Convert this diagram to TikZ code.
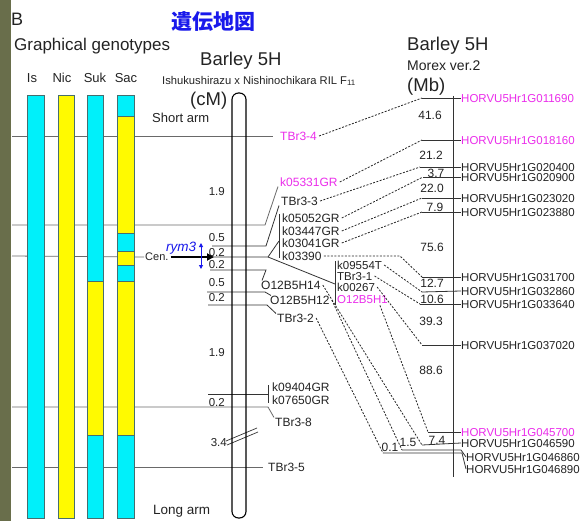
\documentclass[tikz,border=0pt]{standalone}
\usepackage{fontspec}
\setmainfont{Liberation Sans}
\newfontfamily\cjk{Noto Sans CJK JP}
\usetikzlibrary{arrows.meta}
\definecolor{txt}{RGB}{35,35,35}
\definecolor{mag}{RGB}{235,45,235}
\definecolor{tblue}{RGB}{25,25,235}
\definecolor{cy}{RGB}{0,240,250}
\definecolor{ye}{RGB}{255,250,0}
\definecolor{barline}{RGB}{70,110,110}
\definecolor{longc}{RGB}{105,105,105}
\definecolor{photo}{RGB}{105,110,75}
\begin{document}
\begin{tikzpicture}[x=1pt,y=-1pt,
  fsz/.code={\pgfmathsetmacro\myh{0.72*#1}\edef\mytmp{\noexpand\tikzset{text height=\myh pt}}\mytmp\tikzset{font=\fontsize{#1}{#1}\selectfont}},
  T/.style={inner sep=0pt,text depth=0pt,text=txt,fsz=#1},
  W/.style={T=#1,anchor=west},
  E/.style={T=#1,anchor=east},
  C/.style={T=#1,anchor=center},
  longl/.style={draw=longc,line width=0.8pt},
  mline/.style={draw=black!80,line width=0.8pt},
  dsh/.style={draw=black!85,line width=0.8pt,dash pattern=on 2pt off 1.5pt},
  seg/.style={draw=barline,line width=0.6pt,fill=#1},
]
\useasboundingbox (0,0) rectangle (580,521);
\fill[white] (0,0) rectangle (580,521);
\fill[photo] (0,0) rectangle (11,521);

% ---------- titles ----------
\node[W=18] (B) at (11,19) {B};
\node[inner sep=0pt,text=tblue,font=\cjk\bfseries\fontsize{21}{21}\selectfont] (title) at (213,22) {遺伝地図};
\node[W=17] (gg) at (14,44) {Graphical genotypes};
\node[C=13] (is) at (32,78) {Is};
\node[C=13] (nic) at (62,78) {Nic};
\node[C=13] (suk) at (95,78) {Suk};
\node[C=13] (sac) at (126,78) {Sac};
\node[W=18.5] (b5l) at (200,59) {Barley 5H};
\node[W=11.2] (cross) at (162,80) {Ishukushirazu x Nishinochikara RIL F\textsubscript{11}};
\node[W=18.5] (cm) at (190,99) {(cM)};
\node[W=13] (sarm) at (152,118) {Short arm};
\node[W=13.5] (larm) at (153,510) {Long arm};
\node[W=18.5] (b5r) at (407,44) {Barley 5H};
\node[W=14] (morex) at (407,65) {Morex ver.2};
\node[W=18.5] (mb) at (407,85) {(Mb)};

% ---------- left marker labels ----------
\node[W=12,text=mag] (tbr34) at (280,136) {TBr3-4};
\node[W=12,text=mag] (k05331) at (280,182) {k05331GR};
\node[W=12] (tbr33) at (281,201) {TBr3-3};
\node[W=12] (k05052) at (282,218) {k05052GR};
\node[W=12] (k03447) at (282,231) {k03447GR};
\node[W=12] (k03041) at (282,243) {k03041GR};
\node[W=12] (k03390) at (282,256) {k03390};
\node[W=11.5] (k09554) at (337,265) {k09554T};
\node[W=11.5] (tbr31) at (337,276) {TBr3-1};
\node[W=11.5] (k00267) at (337,287) {k00267};
\node[W=11.5,text=mag] (o1) at (337,299) {O12B5H1};
\node[W=12] (o14) at (261,285) {O12B5H14};
\node[W=12] (o12) at (270,300) {O12B5H12};
\node[W=12] (tbr32) at (277,318) {TBr3-2};
\node[W=12] (k09404) at (272,387) {k09404GR};
\node[W=12] (k07650) at (272,400) {k07650GR};
\node[W=12] (tbr38) at (275,422) {TBr3-8};
\node[W=12] (tbr35) at (268,467) {TBr3-5};
\node[W=11] (cen) at (145,257) {Cen.};
\node[W=13.5,text=tblue] (rym) at (166,247) {\itshape rym3};

% ---------- left distances ----------
\node[E=11.5] (d1) at (225,191) {1.9};
\node[E=11.5] (d2) at (225,237) {0.5};
\node[E=11.5] (d3) at (225,252) {0.2};
\node[E=11.5] (d4) at (225,264) {0.2};
\node[E=11.5] (d5) at (225,282) {0.5};
\node[E=11.5] (d6) at (225,297) {0.2};
\node[E=11.5] (d7) at (225,352) {1.9};
\node[E=11.5] (d8) at (225,402) {0.2};
\node[E=11.5] (d9) at (227,442) {3.4};

% ---------- long lines (behind bars) ----------
\draw[longl] (12,136) -- ([xshift=-7pt]tbr34.west);
\draw[longl] (12,225) -- (265,225) -- ([xshift=-2pt]k05331.south west);
\draw[longl] (12,256) -- ([xshift=-1pt]cen.west);
\draw[longl] (12,407) -- (268,407) -- ([xshift=-1pt]tbr38.north west);
\draw[longl] (12,467) -- ([xshift=-5pt]tbr35.west);

% ---------- genotype bars ----------
\draw[seg=cy] (27,95) rectangle (44,518);
\draw[seg=ye] (58,95) rectangle (74,518);
\draw[seg=cy] (87,95) rectangle (103,281);
\draw[seg=ye] (87,281) rectangle (103,435);
\draw[seg=cy] (87,435) rectangle (103,518);
\draw[seg=cy] (117,95) rectangle (134,116);
\draw[seg=ye] (117,116) rectangle (134,233);
\draw[seg=cy] (117,233) rectangle (134,251);
\draw[seg=ye] (117,251) rectangle (134,265);
\draw[seg=cy] (117,265) rectangle (134,281);
\draw[seg=ye] (117,281) rectangle (134,435);
\draw[seg=cy] (117,435) rectangle (134,518);

% ---------- short marker lines ----------
\draw[mline] (212,246) -- (266,246) -- ([xshift=-2pt]tbr33.south west);
\coordinate (br1t) at (279,214);
\coordinate (br1b) at (279,258);
\draw[mline] (br1t) -- (br1b);
\coordinate (br2t) at (335,261);
\coordinate (br2b) at (335,305);
\draw[mline] (br2t) -- (br2b);
\coordinate (m257) at (268,257);
\draw[mline] (208,257) -- (m257) -- (279,241);
\draw[mline] (m257) -- (335,284);
\draw[mline] (210,270) -- (266,270) -- ([xshift=1pt]o14.north west);
\draw[mline] (207,292) -- (265,292) -- ([xshift=1pt]o12.north west);
\draw[mline] (208,305) -- (267,305) -- ([xshift=-1pt]tbr32.north west);
\coordinate (br3t) at (268,385);
\coordinate (br3b) at (268,403);
\draw[mline] (br3t) -- (br3b);
\draw[mline] (208,394) -- (268,394);
\draw[black!80,line width=0.7pt] (226,441) -- (257,428);
\draw[black!80,line width=0.7pt] (227,445) -- (258,432);

% ---------- cM chromosome ----------
\draw[black,line width=1.1pt,rounded corners=6.5pt] (232,93) rectangle (246,518);

% ---------- centromere / rym3 ----------
\draw[black,line width=2.2pt,-{Triangle[length=7pt,width=7pt]}] ([xshift=2pt]cen.east) -- (214,257);
\draw[tblue,line width=1pt,{Triangle[length=4pt,width=4pt]}-{Triangle[length=4pt,width=4pt]}] (201,243) -- (201,269);

% ---------- physical map ----------
\draw[black!80,line width=0.9pt] (453,96) -- (453,477);
\coordinate (g1L) at (422,98);
\coordinate (g2L) at (422,140);
\coordinate (g3L) at (420,167);
\coordinate (g4L) at (423,177);
\coordinate (g5L) at (422,198);
\coordinate (g6L) at (422,212);
\coordinate (g7L) at (422,277);
\coordinate (g8L) at (422,292);
\coordinate (g9L) at (420,304);
\coordinate (g10L) at (422,345);
\coordinate (g11L) at (428,432);
\coordinate (g12L) at (422,445);
\coordinate (g13L) at (402,450);
\coordinate (g14L) at (383,453);
\node[W=11.5,text=mag] (g1) at (461,98) {HORVU5Hr1G011690};
\node[W=11.5,text=mag] (g2) at (461,140) {HORVU5Hr1G018160};
\node[W=11.5] (g3) at (461,167) {HORVU5Hr1G020400};
\node[W=11.5] (g4) at (461,177) {HORVU5Hr1G020900};
\node[W=11.5] (g5) at (461,198) {HORVU5Hr1G023020};
\node[W=11.5] (g6) at (461,212) {HORVU5Hr1G023880};
\node[W=11.5] (g7) at (461,277) {HORVU5Hr1G031700};
\node[W=11.5] (g8) at (461,291) {HORVU5Hr1G032860};
\node[W=11.5] (g9) at (461,304) {HORVU5Hr1G033640};
\node[W=11.5] (g10) at (461,345) {HORVU5Hr1G037020};
\node[W=11.5,text=mag] (g11) at (461,432) {HORVU5Hr1G045700};
\node[W=11.5] (g12) at (461,443) {HORVU5Hr1G046590};
\node[W=11.5] (g13) at (466,457) {HORVU5Hr1G046860};
\node[W=11.5] (g14) at (466,469) {HORVU5Hr1G046890};
\foreach \i in {1,...,12} {\draw[mline] (g\i L) -- (g\i.west);}
\draw[mline] (g13L) -- (461,450) -- (g13.west);
\draw[mline] (g14L) -- (462,453) -- (g14.west);

% right distances
\node[C=12] (r1) at (430,115) {41.6};
\node[C=12] (r2) at (431,155) {21.2};
\node[C=12] (r3) at (436,173) {3.7};
\node[C=12] (r4) at (432,188) {22.0};
\node[C=12] (r5) at (435,207) {7.9};
\node[C=12] (r6) at (432,247) {75.6};
\node[C=12] (r7) at (432,283) {12.7};
\node[C=12] (r8) at (432,299) {10.6};
\node[C=12] (r9) at (431,321) {39.3};
\node[C=12] (r10) at (431,370) {88.6};
\node[C=12] (r11) at (437,440) {7.4};
\node[C=12] (r12) at (408,442) {1.5};
\node[C=12] (r13) at (390,447) {0.1};

% ---------- dashed correspondences ----------
\draw[dsh] ([xshift=2pt]tbr34.east) -- (g1L);
\draw[dsh] ([xshift=2pt]k05331.east) -- (g2L);
\draw[dsh] ([xshift=2pt]tbr33.east) -- (g3L);
\draw[dsh] ([xshift=2pt]k05052.east) -- (g4L);
\draw[dsh] ([xshift=2pt]k03447.east) -- (g5L);
\draw[dsh] ([xshift=2pt]k03041.east) -- (g6L);
\draw[dsh] ([xshift=2pt]k03390.east) -- (400,256) -- (g7L);
\draw[dsh] ([xshift=2pt]k09554.east) -- (g8L);
\draw[dsh] ([xshift=2pt]tbr31.east) -- (g9L);
\draw[dsh] ([xshift=2pt]k00267.east) -- (g10L);
\draw[dsh] ([xshift=-8pt,yshift=-2pt]o1.south east) -- (g11L);
\draw[dsh] ([xshift=2pt]o14.east) -- (g12L);
\draw[dsh] ([xshift=2pt]o12.east) -- (g13L);
\draw[dsh] ([xshift=2pt]tbr32.east) -- (g14L);
\end{tikzpicture}
\end{document}
